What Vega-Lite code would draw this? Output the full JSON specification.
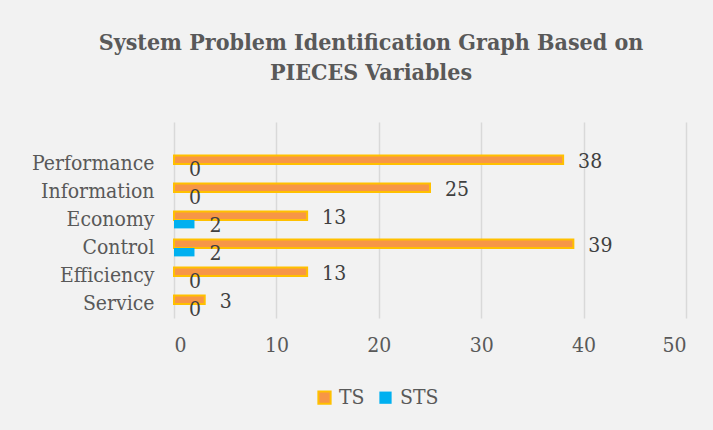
{
  "$schema": "https://vega.github.io/schema/vega-lite/v6.json",
  "width": 512,
  "height": 196,
  "autosize": {"type": "none"},
  "padding": {"left": 174, "top": 122, "right": 27, "bottom": 112},
  "background": "#f2f2f2",
  "title": {
    "text": ["System Problem Identification Graph Based on", "PIECES Variables"],
    "font": "DejaVu Serif Condensed",
    "fontSize": 23,
    "fontWeight": "bold",
    "color": "#595959",
    "anchor": "middle",
    "lineHeight": 30,
    "offset": 37,
    "dx": -59
  },
  "config": {
    "view": {"stroke": null}
  },
  "data": {
    "values": [
      {"category": "Performance", "series": "TS", "value": 38},
      {"category": "Performance", "series": "STS", "value": 0},
      {"category": "Information", "series": "TS", "value": 25},
      {"category": "Information", "series": "STS", "value": 0},
      {"category": "Economy", "series": "TS", "value": 13},
      {"category": "Economy", "series": "STS", "value": 2},
      {"category": "Control", "series": "TS", "value": 39},
      {"category": "Control", "series": "STS", "value": 2},
      {"category": "Efficiency", "series": "TS", "value": 13},
      {"category": "Efficiency", "series": "STS", "value": 0},
      {"category": "Service", "series": "TS", "value": 3},
      {"category": "Service", "series": "STS", "value": 0}
    ]
  },
  "encoding": {
    "y": {
      "field": "category",
      "type": "nominal",
      "scale": {
        "domain": [" ", "Performance", "Information", "Economy", "Control", "Efficiency", "Service"],
        "paddingInner": 0.4,
        "paddingOuter": 0.2
      },
      "axis": {
        "title": null,
        "domain": false,
        "ticks": false,
        "grid": false,
        "labelFont": "DejaVu Serif Condensed",
        "labelFontSize": 21,
        "labelColor": "#595959",
        "labelPadding": 20
      }
    },
    "yOffset": {"field": "series", "type": "nominal", "scale": {"domain": ["TS", "STS"]}},
    "x": {
      "field": "value",
      "type": "quantitative",
      "scale": {"domain": [0, 50], "nice": false},
      "axis": {
        "title": null,
        "values": [0, 10, 20, 30, 40, 50],
        "domain": false,
        "ticks": false,
        "grid": true,
        "gridColor": "#d9d9d9",
        "gridWidth": 1.5,
        "labelFont": "DejaVu Serif Condensed",
        "labelFontSize": 21,
        "labelColor": "#595959",
        "labelPadding": 16
      }
    }
  },
  "layer": [
    {
      "mark": {"type": "bar", "strokeWidth": 2},
      "encoding": {
        "color": {
          "field": "series",
          "type": "nominal",
          "scale": {"domain": ["TS", "STS"], "range": ["#F79646", "#00B0F0"]},
          "legend": {
            "title": null,
            "orient": "none",
            "direction": "horizontal",
            "legendX": 140,
            "legendY": 265,
            "symbolType": "square",
            "symbolSize": 150,
            "symbolStrokeWidth": 2,
            "labelFont": "DejaVu Serif Condensed",
            "labelFontSize": 21,
            "labelColor": "#595959",
            "labelOffset": 4,
            "columnPadding": 10
          }
        },
        "stroke": {
          "field": "series",
          "type": "nominal",
          "scale": {"domain": ["TS", "STS"], "range": ["#FFC000", "rgba(0,0,0,0)"]},
          "legend": {
            "title": null,
            "orient": "none",
            "direction": "horizontal",
            "legendX": 140,
            "legendY": 265,
            "symbolType": "square",
            "symbolSize": 150,
            "symbolStrokeWidth": 2,
            "labelFont": "DejaVu Serif Condensed",
            "labelFontSize": 21,
            "labelColor": "#595959",
            "labelOffset": 4,
            "columnPadding": 10
          }
        }
      }
    },
    {
      "mark": {
        "type": "text",
        "align": "left",
        "baseline": "middle",
        "dx": 15,
        "dy": 2,
        "font": "DejaVu Serif Condensed",
        "fontSize": 21,
        "color": "#404040"
      },
      "encoding": {
        "text": {"field": "value", "type": "quantitative"}
      }
    }
  ]
}
